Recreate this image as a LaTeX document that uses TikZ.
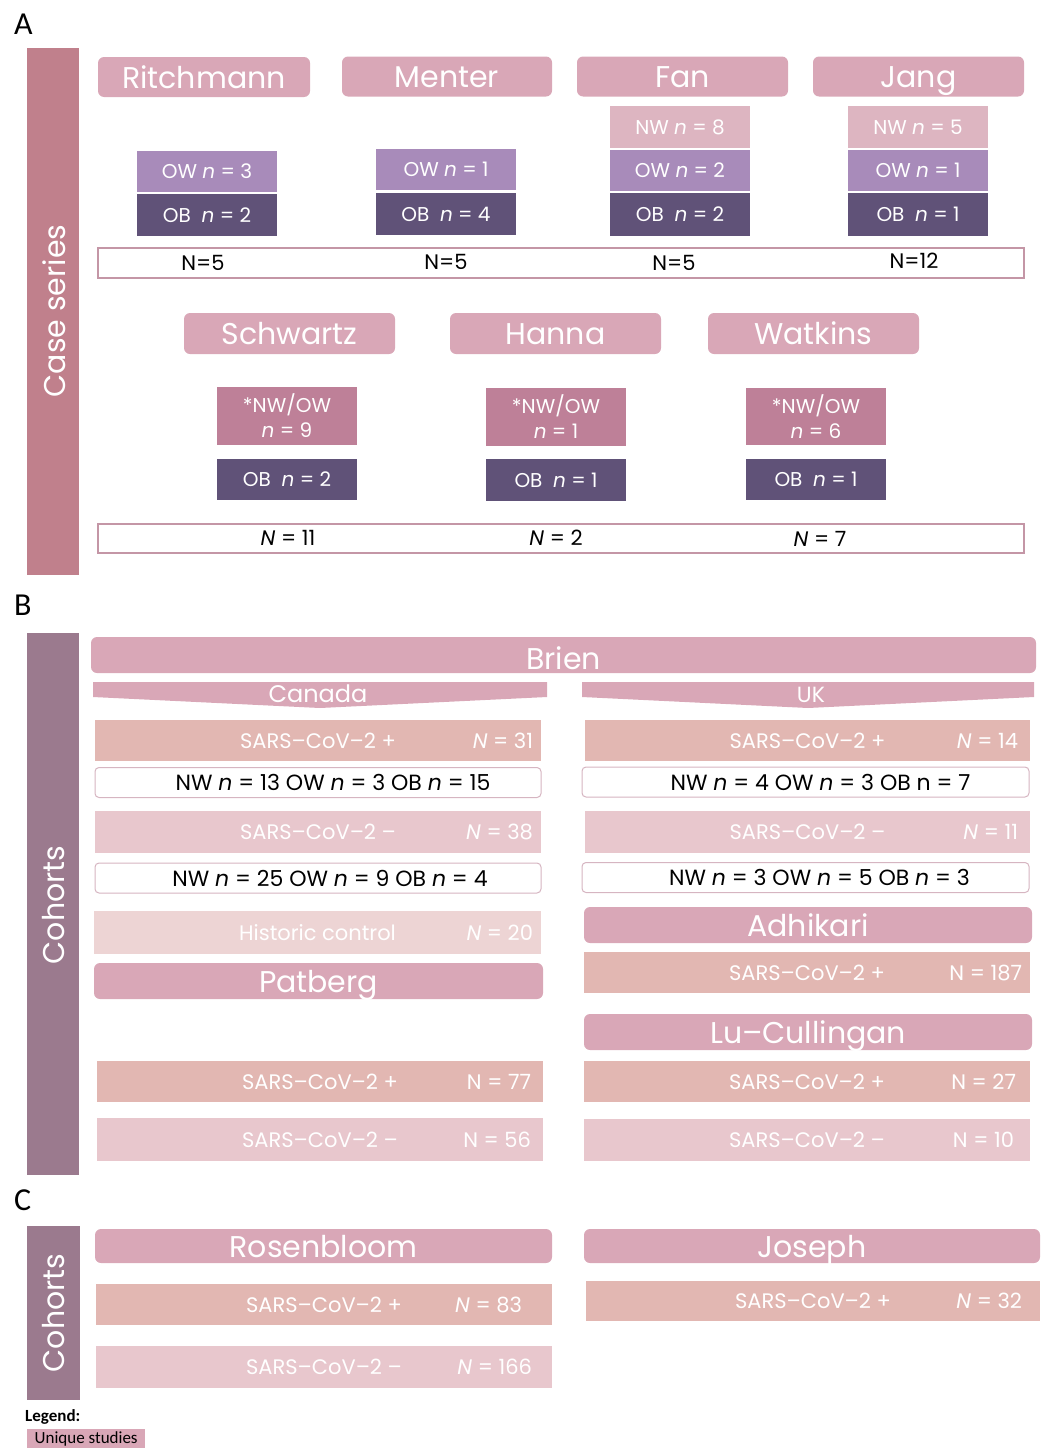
\documentclass[tikz,border=0pt]{standalone}
\usepackage{fontspec}
\setmainfont{Poppins}
\newfontfamily\calib{Carlito}
\usepackage{tikz}

\definecolor{sidecase}{RGB}{192,128,140}
\definecolor{sidecoh}{RGB}{155,122,142}
\definecolor{studycol}{RGB}{217,167,183}
\definecolor{nwcol}{RGB}{221,181,193}
\definecolor{owcol}{RGB}{168,139,186}
\definecolor{obcol}{RGB}{96,82,120}
\definecolor{nwowcol}{RGB}{190,128,152}
\definecolor{poscol}{RGB}{226,183,178}
\definecolor{negcol}{RGB}{232,199,205}
\definecolor{histcol}{RGB}{237,212,212}
\definecolor{edgecol}{RGB}{196,150,166}

\newcommand{\nsym}{\textit{n}}
\newcommand{\Nsym}{\textit{N}}

\tikzset{
  sidebar/.style={fill=#1, draw=none},
  sidetext/.style={rotate=90, text=white, font=\fontsize{30}{33}\selectfont, inner sep=0pt},
  panel/.style={font=\calib\fontsize{32}{34}\selectfont, anchor=west, inner sep=0pt},
  studybox/.style={fill=studycol, rounded corners=6pt, text=white, inner sep=0pt,
    text height=22pt, text depth=0pt, font=\fontsize{30}{32}\selectfont},
  grpbox/.style={fill=#1, text=white, inner sep=0pt, minimum width=140pt,
    font=\fontsize{20}{25}\selectfont, align=center},
  wide/.style={fill=#1, text=white, inner sep=0pt, font=\fontsize{21}{23}\selectfont},
  nlab/.style={text=white, inner sep=0pt, anchor=east, font=\fontsize{21}{23}\selectfont},
  totbox/.style={draw=edgecol, line width=1.4pt, fill=white},
  totlab/.style={inner sep=0pt, font=\fontsize{21}{23}\selectfont},
  splitbox/.style={draw=edgecol!70, line width=1pt, fill=white, rounded corners=4pt,
    inner sep=0pt, minimum height=30pt, font=\fontsize{22}{24}\selectfont},
  banner/.style={fill=studycol, draw=none},
}

\begin{document}
\begin{tikzpicture}[x=1pt,y=-1pt]
\useasboundingbox (0,0) rectangle (1043,1448);

%%%%%%%%%%%%%%%%%%%%%%%% A: case series
\node[panel] (labA) at (14,24) {A};
%Shape: Rectangle
\fill[sidebar=sidecase] (27,48) rectangle (79,575);
\node[sidetext] (sideA) at (54,311) {Case series};

% study headers, first row
\node[studybox, minimum width=212pt, minimum height=40pt] (ritch) at (204,77) {Ritchmann};
\node[studybox, minimum width=210pt, minimum height=40pt] (menter) at (447,76.5) {Menter};
\node[studybox, minimum width=211pt, minimum height=40pt] (fan) at (682.5,76.5) {Fan};
\node[studybox, minimum width=211pt, minimum height=40pt] (jang) at (918.5,76.5) {Jang};

% weight groups
\node[grpbox=owcol, minimum height=41pt] (ritchOW) at (207,171.5) {OW \nsym{} = 3};
\node[grpbox=obcol, minimum height=42pt] (ritchOB) at (207,215) {OB \ \nsym{} = 2};
\node[grpbox=owcol, minimum height=41pt] (menterOW) at (446,169.5) {OW \nsym{} = 1};
\node[grpbox=obcol, minimum height=42pt] (menterOB) at (446,214) {OB \ \nsym{} = 4};
\node[grpbox=nwcol, minimum height=42pt] (fanNW) at (680,127) {NW \nsym{} = 8};
\node[grpbox=owcol, minimum height=41pt] (fanOW) at (680,170.5) {OW \nsym{} = 2};
\node[grpbox=obcol, minimum height=43pt] (fanOB) at (680,214.5) {OB \ \nsym{} = 2};
\node[grpbox=nwcol, minimum height=42pt] (jangNW) at (918,127) {NW \nsym{} = 5};
\node[grpbox=owcol, minimum height=41pt] (jangOW) at (918,170.5) {OW \nsym{} = 1};
\node[grpbox=obcol, minimum height=43pt] (jangOB) at (918,214.5) {OB \ \nsym{} = 1};

% totals, first row
\draw[totbox] (98,248) rectangle (1024,278);
\node[totlab] (totR) at (203,263) {N=5};
\node[totlab] (totM) at (446,262) {N=5};
\node[totlab] (totF) at (674,263) {N=5};
\node[totlab] (totJ) at (914,261) {N=12};

% study headers, second row
\node[studybox, minimum width=211pt, minimum height=41pt] (schw) at (289.5,333.5) {Schwartz};
\node[studybox, minimum width=211pt, minimum height=41pt] (hanna) at (555.5,333.5) {Hanna};
\node[studybox, minimum width=211pt, minimum height=41pt] (watk) at (813.5,333.5) {Watkins};

\node[grpbox=nwowcol, minimum height=58pt] (schwNO) at (287,416) {*NW/OW\\\nsym{} = 9};
\node[grpbox=obcol, minimum height=41pt] (schwOB) at (287,479.5) {OB \ \nsym{} = 2};
\node[grpbox=nwowcol, minimum height=58pt] (hannaNO) at (556,417) {*NW/OW\\\nsym{} = 1};
\node[grpbox=obcol, minimum height=42pt] (hannaOB) at (556,480) {OB \ \nsym{} = 1};
\node[grpbox=nwowcol, minimum height=57pt] (watkNO) at (816,416.5) {*NW/OW\\\nsym{} = 6};
\node[grpbox=obcol, minimum height=41pt] (watkOB) at (816,479.5) {OB \ \nsym{} = 1};

% totals, second row
\draw[totbox] (98,524) rectangle (1024,553);
\node[totlab] (totS) at (288,538) {\Nsym{} = 11};
\node[totlab] (totH) at (556,538) {\Nsym{} = 2};
\node[totlab] (totW) at (820,539) {\Nsym{} = 7};

%%%%%%%%%%%%%%%%%%%%%%%% B: cohorts
\node[panel] (labB) at (14,605) {B};
\fill[sidebar=sidecoh] (27,633) rectangle (79,1175);
\node[sidetext] (sideB) at (54,905) {Cohorts};

\node[studybox, minimum width=945pt, minimum height=36pt] (brien) at (563.5,655) {\raisebox{-3pt}{Brien}};

% country banners
\fill[banner] (93,682) -- (547,682) -- (547,697) -- (320,708) -- (93,697) -- cycle;
\node[text=white, inner sep=0pt, font=\fontsize{24}{25}\selectfont] (canada) at (318,694) {Canada};
\fill[banner] (582,682) -- (1034,682) -- (1034,697) -- (808,708) -- (582,697) -- cycle;
\node[text=white, inner sep=0pt, font=\fontsize{22}{23}\selectfont] (uk) at (811,695) {UK};

% Canada
\node[wide=poscol, minimum width=446pt, minimum height=41pt] (caPos) at (318,740.5) {SARS–CoV–2 +};
\node[nlab] (caPosN) at ([xshift=-8pt]caPos.east) {\Nsym{} = 31};
\node[splitbox, minimum width=446pt] (caPosW) at (318,782.5) {\hspace*{30pt}NW \nsym{} = 13 OW \nsym{} = 3 OB \nsym{} = 15};
\node[wide=negcol, minimum width=446pt, minimum height=42pt] (caNeg) at (318,832) {SARS–CoV–2 –};
\node[nlab] (caNegN) at ([xshift=-8pt]caNeg.east) {\Nsym{} = 38};
\node[splitbox, minimum width=446pt] (caNegW) at (318,878) {\hspace*{24pt}NW \nsym{} = 25 OW \nsym{} = 9 OB \nsym{} = 4};
\node[wide=histcol, minimum width=447pt, minimum height=43pt] (caHist) at (317.5,932.5) {Historic control};
\node[nlab] (caHistN) at ([xshift=-8pt]caHist.east) {\Nsym{} = 20};

% Patberg
\node[studybox, minimum width=449pt, minimum height=36pt] (patb) at (318.5,981) {Patberg};
\node[wide=poscol, minimum width=446pt, minimum height=41pt] (patPos) at (320,1081.5) {SARS–CoV–2 +};
\node[nlab] (patPosN) at ([xshift=-12pt]patPos.east) {N = 77};
\node[wide=negcol, minimum width=446pt, minimum height=43pt] (patNeg) at (320,1139.5) {SARS–CoV–2 –};
\node[nlab] (patNegN) at ([xshift=-12pt]patNeg.east) {N = 56};

% UK
\node[wide=poscol, minimum width=445pt, minimum height=41pt] (ukPos) at (807.5,740.5) {SARS–CoV–2 +};
\node[nlab] (ukPosN) at ([xshift=-12pt]ukPos.east) {\Nsym{} = 14};
\node[splitbox, minimum width=447pt] (ukPosW) at (805.5,782) {\hspace*{30pt}NW \nsym{} = 4 OW \nsym{} = 3 OB n = 7};
\node[wide=negcol, minimum width=445pt, minimum height=42pt] (ukNeg) at (807.5,832) {SARS–CoV–2 –};
\node[nlab] (ukNegN) at ([xshift=-12pt]ukNeg.east) {\Nsym{} = 11};
\node[splitbox, minimum width=447pt] (ukNegW) at (805.5,877.5) {\hspace*{28pt}NW \nsym{} = 3 OW \nsym{} = 5 OB \nsym{} = 3};

% Adhikari
\node[studybox, minimum width=448pt, minimum height=36pt] (adhi) at (808,925) {Adhikari};
\node[wide=poscol, minimum width=446pt, minimum height=41pt] (adhiPos) at (807,972.5) {SARS–CoV–2 +};
\node[nlab] (adhiPosN) at ([xshift=-8pt]adhiPos.east) {N = 187};

% Lu-Cullingan
\node[studybox, minimum width=448pt, minimum height=36pt] (lucu) at (808,1032) {Lu–Cullingan};
\node[wide=poscol, minimum width=446pt, minimum height=41pt] (luPos) at (807,1081.5) {SARS–CoV–2 +};
\node[nlab] (luPosN) at ([xshift=-14pt]luPos.east) {N = 27};
\node[wide=negcol, minimum width=446pt, minimum height=42pt] (luNeg) at (807,1140) {SARS–CoV–2 –};
\node[nlab] (luNegN) at ([xshift=-16pt]luNeg.east) {N = 10};

%%%%%%%%%%%%%%%%%%%%%%%% C: cohorts
\node[panel] (labC) at (14,1200) {C};
\fill[sidebar=sidecoh] (27,1226) rectangle (80,1400);
\node[sidetext] (sideC) at (54,1313) {Cohorts};

\node[studybox, minimum width=457pt, minimum height=34pt] (rosen) at (323.5,1246) {Rosenbloom};
\node[wide=poscol, minimum width=456pt, minimum height=41pt] (rosPos) at (324,1304.5) {SARS–CoV–2 +};
\node[nlab] (rosPosN) at ([xshift=-30pt]rosPos.east) {\Nsym{} = 83};
\node[wide=negcol, minimum width=456pt, minimum height=42pt] (rosNeg) at (324,1367) {SARS–CoV–2 –};
\node[nlab] (rosNegN) at ([xshift=-20pt]rosNeg.east) {\Nsym{} = 166};

\node[studybox, minimum width=456pt, minimum height=34pt] (joseph) at (812,1246) {Joseph};
\node[wide=poscol, minimum width=454pt, minimum height=40pt] (josPos) at (813,1301) {SARS–CoV–2 +};
\node[nlab] (josPosN) at ([xshift=-18pt]josPos.east) {\Nsym{} = 32};

% Legend
\node[anchor=west, inner sep=0pt, font=\calib\bfseries\fontsize{17}{18}\selectfont] (legend) at (25,1417) {Legend:};
\node[anchor=north west, fill=studycol, inner sep=0pt, minimum width=118pt, minimum height=19pt,
  font=\calib\fontsize{17}{18}\selectfont] (legUnique) at (27,1429) {Unique studies};

\end{tikzpicture}
\end{document}
